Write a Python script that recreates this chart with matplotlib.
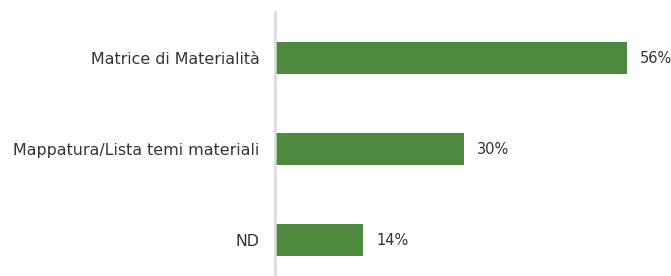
import matplotlib.pyplot as plt

categories = ['Matrice di Materialità', 'Mappatura/Lista temi materiali', 'ND']
values = [56, 30, 14]
value_labels = ['56%', '30%', '14%']

bar_color = '#4E8A3E'
text_color = '#333333'

plt.rcParams['font.family'] = ['DejaVu Sans']

fig = plt.figure(figsize=(6.71, 2.76), dpi=100)
ax = fig.add_axes([275 / 671, 0, 396 / 671, 264 / 276])

pos = list(range(len(categories)))
ax.barh(pos, values, height=0.35, color=bar_color)

for p, v, lab in zip(pos, values, value_labels):
    ax.text(v + 2.1, p, lab, va='center', ha='left', fontsize=10.5, color=text_color)

ax.set_xlim(0, 63)
ax.set_ylim(2.39, -0.505)
ax.set_yticks(pos)
ax.set_yticklabels(categories, fontsize=11.4, color=text_color)
ax.tick_params(axis='y', length=0, pad=11)
ax.set_xticks([])

for side in ['top', 'right', 'bottom']:
    ax.spines[side].set_visible(False)
ax.spines['left'].set_color('#D9D9D9')
ax.spines['left'].set_linewidth(1.8)

fig.savefig('out.png', dpi=100)
